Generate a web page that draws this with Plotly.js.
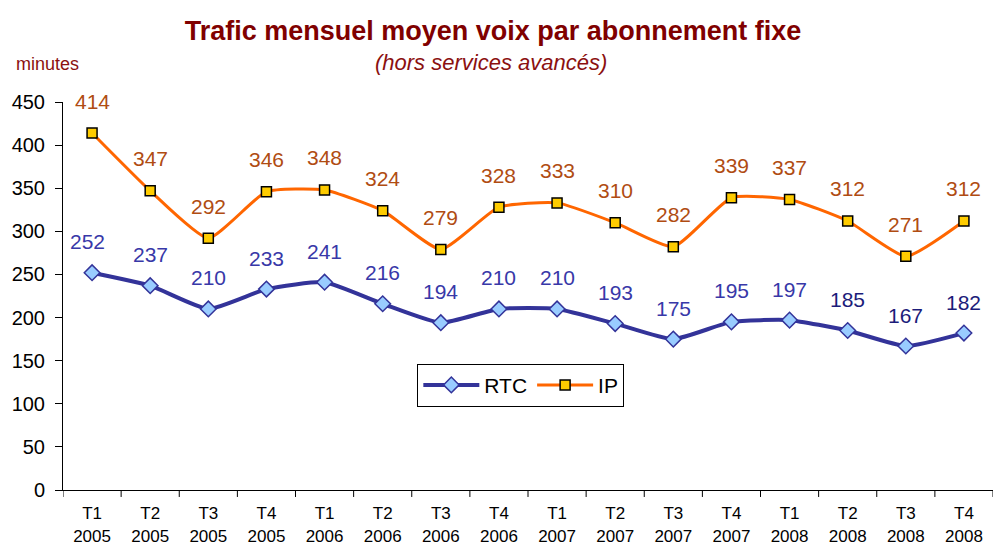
<!DOCTYPE html>
<html><head><meta charset="utf-8">
<script src="https://cdn.plot.ly/plotly-3.0.1.min.js"></script>
<style>body{margin:0;background:#fff}#c{width:994px;height:550px}</style>
</head><body><div id="c"></div>
<script>
const quarters = ["T1","T2","T3","T4","T1","T2","T3","T4","T1","T2","T3","T4","T1","T2","T3","T4"];
const years = ["2005","2005","2005","2005","2006","2006","2006","2006","2007","2007","2007","2007","2008","2008","2008","2008"];
const rtc = [252,237,210,233,241,216,194,210,210,193,175,195,197,185,167,182];
const ip = [414,347,292,346,348,324,279,328,333,310,282,339,337,312,271,312];

const cats = quarters.map((q,i)=>q+"<br>"+years[i]);
const idx = cats.map((_,i)=>i);

const rtcLabelColors = rtc.map((_,i)=> i>=13 ? "#1c1c7a" : "#3838a8");
const ann = [];
ip.forEach((v,i)=>ann.push({x:i,y:v,xref:'x',yref:'y',text:String(v),showarrow:false,yshift:32,
  font:{family:'Liberation Sans, Arial',size:21,color:'#b04c12'}}));
rtc.forEach((v,i)=>ann.push({x:i,y:v,xref:'x',yref:'y',text:String(v),showarrow:false,yshift:31,xshift:(i===0?-5:0),
  font:{family:'Liberation Sans, Arial',size:21,color:rtcLabelColors[i]}}));
ann.push({xref:'paper',yref:'paper',x:-0.053,y:1.098,xanchor:'left',yanchor:'middle',text:'minutes',showarrow:false,
  font:{family:'Liberation Sans, Arial',size:18,color:'#8b1010'}});
ann.push({xref:'paper',yref:'paper',x:0.46,y:1.103,xanchor:'center',yanchor:'middle',text:'<i>(hors services avancés)</i>',showarrow:false,
  font:{family:'Liberation Sans, Arial',size:22,color:'#8b1010'}});

const traces = [
 {x:idx,y:rtc,name:'RTC',type:'scatter',mode:'lines+markers',
  line:{color:'#333399',width:4,shape:'spline',smoothing:0.5},
  marker:{symbol:'diamond',size:12,color:'#99ccff',line:{color:'#333399',width:1.5}}},
 {x:idx,y:ip,name:'IP',type:'scatter',mode:'lines+markers',
  line:{color:'#ff6600',width:3,shape:'spline',smoothing:0.5},
  marker:{symbol:'square',size:10,color:'#ffcc00',line:{color:'#000',width:1.5}}}
];

const layout = {
  width:994,height:550,
  margin:{l:63,r:1,t:102,b:60},
  paper_bgcolor:'#fff',plot_bgcolor:'#fff',
  font:{family:'Liberation Sans, Arial',color:'#000'},
  title:{text:'<b>Trafic mensuel moyen voix par abonnement fixe</b>',x:0.496,xanchor:'center',y:0.945,yanchor:'middle',
    font:{family:'Liberation Sans, Arial',size:27,color:'#800000'}},
  showlegend:true,
  legend:{orientation:'h',x:0.381,y:0.27,xanchor:'left',yanchor:'middle',bordercolor:'#000',borderwidth:1,
    bgcolor:'#fff',font:{size:21,family:'Liberation Sans, Arial'},itemwidth:56,tracegroupgap:0},
  xaxis:{range:[-0.5,15.5],tickmode:'array',tickvals:idx,ticktext:cats,showgrid:false,zeroline:false,
    showline:true,linecolor:'#000',linewidth:1,ticks:'',tickfont:{size:17},ticklabelstandoff:8,fixedrange:true},
  yaxis:{range:[0,450],dtick:50,showgrid:false,zeroline:false,showline:true,linecolor:'#000',linewidth:1,
    ticks:'outside',ticklen:7,tickcolor:'#000',tickfont:{size:20},ticklabelstandoff:6,fixedrange:true},
  shapes: idx.concat([16]).map(i=>({type:'line',xref:'x',yref:'paper',x0:i-0.5,x1:i-0.5,y0:0,y1:-0.018,line:{color:'#000',width:1}})),
  annotations:ann
};
Plotly.newPlot('c',traces,layout,{displayModeBar:false,staticPlot:true});
</script></body></html>
